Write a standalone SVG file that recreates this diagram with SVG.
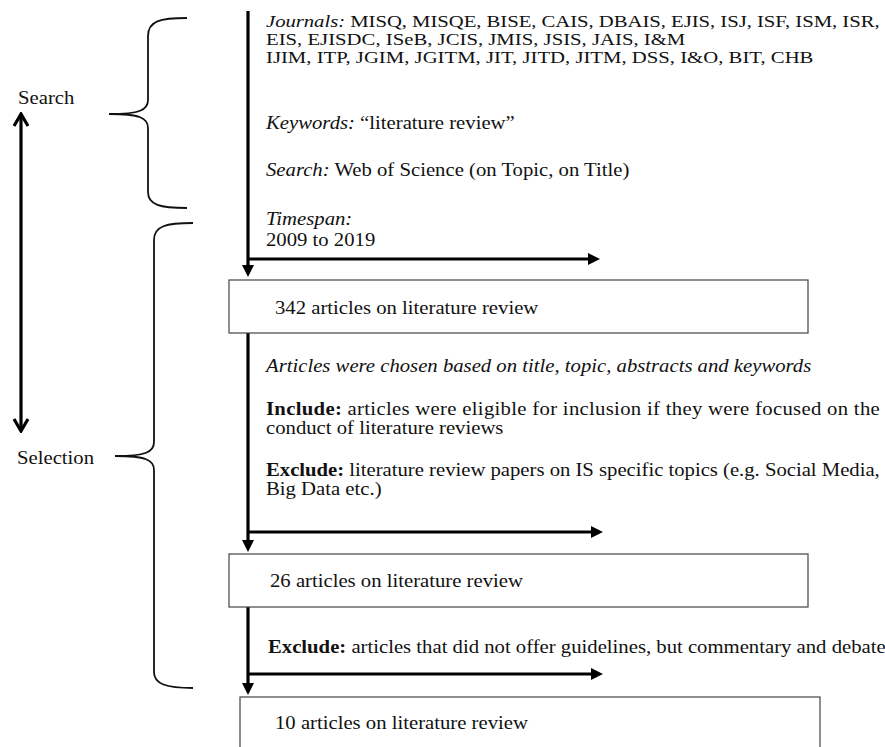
<svg xmlns="http://www.w3.org/2000/svg" width="885" height="747" viewBox="0 0 885 747">
<style>
text{font-family:"Liberation Serif","Times New Roman",serif;font-size:18.5px;fill:#111}
.j{font-size:17px}
.i{font-style:italic}
.b{font-weight:bold}
.box{fill:#fff;stroke:#444;stroke-width:1.2}
.flow{fill:none;stroke:#000;stroke-width:3.2}
.brace{fill:none;stroke:#111;stroke-width:1.8}
.dbl{fill:none;stroke:#000;stroke-width:3.2}
</style>
<defs>
<marker id="tri" viewBox="0 0 12 12" refX="1" refY="6" markerWidth="12" markerHeight="12" markerUnits="userSpaceOnUse" orient="auto">
<path d="M0,0 L12,6 L0,12 z" fill="#000"/>
</marker>
<marker id="chev" viewBox="0 0 16 18" refX="14" refY="9" markerWidth="16" markerHeight="18" markerUnits="userSpaceOnUse" orient="auto-start-reverse">
<path d="M2,2 L14,9 L2,16" fill="none" stroke="#000" stroke-width="3.2"/>
</marker>
</defs>

<g id="connectors">
<line class="flow" x1="248" y1="11" x2="248" y2="266" marker-end="url(#tri)"/>
<line class="flow" x1="248" y1="259" x2="589" y2="259" marker-end="url(#tri)"/>
<line class="flow" x1="248" y1="333" x2="248" y2="541" marker-end="url(#tri)"/>
<line class="flow" x1="248" y1="532" x2="592" y2="532" marker-end="url(#tri)"/>
<line class="flow" x1="248" y1="607" x2="248" y2="684" marker-end="url(#tri)"/>
<line class="flow" x1="248" y1="674" x2="592" y2="674" marker-end="url(#tri)"/>
<line class="dbl" x1="21" y1="114" x2="21" y2="431" marker-start="url(#chev)" marker-end="url(#chev)"/>
</g>

<g id="search-label"><text transform="translate(18,104) scale(1.12,1)">Search</text></g>
<g id="selection-label"><text transform="translate(17,464) scale(1.12,1)">Selection</text></g>

<g id="search-brace">
<path class="brace" d="M187,18 C160,18 148,21 148,36 L148,100 C148,110 140,114 109,114 C140,114 148,118 148,128 L148,192 C148,205 160,208 187,208"/>
</g>
<g id="selection-brace">
<path class="brace" d="M193,223 C166,223 154,226 154,240 L154,442 C154,452 146,456 115,456 C146,456 154,460 154,470 L154,672 C154,684 166,688 193,688"/>
</g>

<g id="search-criteria">
<text class="j" transform="translate(266,27) scale(1.22,1)" textLength="503" lengthAdjust="spacing"><tspan class="i">Journals:</tspan> MISQ, MISQE, BISE, CAIS, DBAIS, EJIS, ISJ, ISF, ISM, ISR,</text>
<text class="j" transform="translate(266,45) scale(1.22,1)">EIS, EJISDC, ISeB, JCIS, JMIS, JSIS, JAIS, I&amp;M</text>
<text class="j" transform="translate(266,63) scale(1.22,1)">IJIM, ITP, JGIM, JGITM, JIT, JITD, JITM, DSS, I&amp;O, BIT, CHB</text>
<text transform="translate(266,129) scale(1.12,1)"><tspan class="i">Keywords:</tspan> “literature review”</text>
<text transform="translate(266,176) scale(1.12,1)"><tspan class="i">Search:</tspan> Web of Science (on Topic, on Title)</text>
<text transform="translate(266,225) scale(1.12,1)" class="i">Timespan:</text>
<text transform="translate(266,246) scale(1.12,1)">2009 to 2019</text>
</g>

<g id="box-342">
<rect class="box" x="229" y="280" width="579" height="53"/>
<text transform="translate(275,314) scale(1.12,1)">342 articles on literature review</text>
</g>

<g id="selection-criteria">
<text transform="translate(266,372) scale(1.12,1)" class="i">Articles were chosen based on title, topic, abstracts and keywords</text>
<text transform="translate(266,415) scale(1.12,1)" textLength="548" lengthAdjust="spacing"><tspan class="b">Include:</tspan> articles were eligible for inclusion if they were focused on the</text>
<text transform="translate(266,434) scale(1.12,1)">conduct of literature reviews</text>
<text transform="translate(266,476) scale(1.12,1)" textLength="548" lengthAdjust="spacing"><tspan class="b">Exclude:</tspan> literature review papers on IS specific topics (e.g. Social  Media,</text>
<text transform="translate(266,495) scale(1.12,1)">Big Data etc.)</text>
</g>

<g id="box-26">
<rect class="box" x="229" y="554" width="579" height="53"/>
<text transform="translate(270,587) scale(1.12,1)">26 articles on literature review</text>
</g>

<g id="exclude-2">
<text transform="translate(268,653) scale(1.12,1)"><tspan class="b">Exclude:</tspan> articles that did not offer guidelines, but commentary and debate</text>
</g>

<g id="box-10">
<rect class="box" x="240" y="697" width="580" height="70"/>
<text transform="translate(275,729) scale(1.12,1)">10 articles on literature review</text>
</g>
</svg>
